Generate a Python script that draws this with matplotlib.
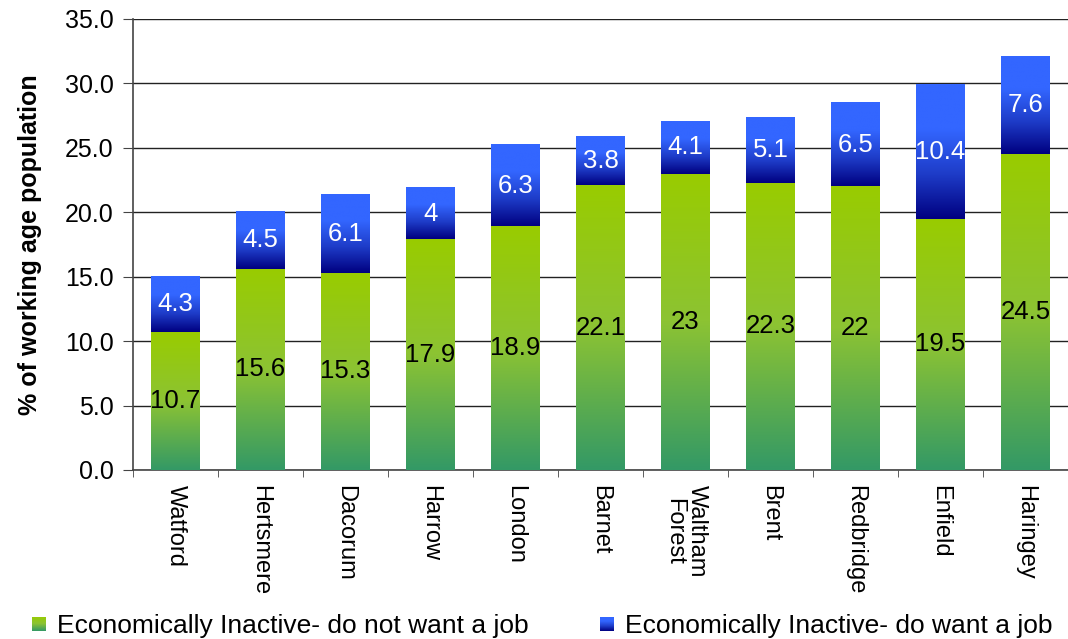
import matplotlib.pyplot as plt
import numpy as np
from matplotlib.colors import LinearSegmentedColormap

plt.rcParams['font.family'] = ['Liberation Sans', 'DejaVu Sans']

areas = ['Watford', 'Hertsmere', 'Dacorum', 'Harrow', 'London', 'Barnet',
         'Waltham\nForest', 'Brent', 'Redbridge', 'Enfield', 'Haringey']
not_want = [10.7, 15.6, 15.3, 17.9, 18.9, 22.1, 23, 22.3, 22, 19.5, 24.5]
do_want = [4.3, 4.5, 6.1, 4, 6.3, 3.8, 4.1, 5.1, 6.5, 10.4, 7.6]

legend_labels = ['Economically Inactive- do not want a job',
                 'Economically Inactive- do want a job']

# vertical gradients, bottom colour first
green_cm = LinearSegmentedColormap.from_list('grn', ['#339966', '#8CC333', '#99CC00'])
blue_cm = LinearSegmentedColormap.from_list('blu', ['#000080', '#1E3CC8', '#3366FF', '#3366FF'])
grad = np.linspace(0, 1, 256).reshape(-1, 1)

fig = plt.figure(figsize=(10.68, 6.39), dpi=100)
ax = fig.add_axes([0.1245, 0.2645, 0.8755, 0.7058])

w = 0.57
x = np.arange(len(areas))
for i in x:
    lo, hi = 0, not_want[i]
    ax.imshow(grad, extent=(i - w / 2, i + w / 2, lo, hi), cmap=green_cm,
              origin='lower', aspect='auto', zorder=3)
    ax.text(i, (lo + hi) / 2, f'{not_want[i]:g}', ha='center', va='center',
            fontsize=18.5, color='black', zorder=4)
    lo, hi = not_want[i], not_want[i] + do_want[i]
    ax.imshow(grad, extent=(i - w / 2, i + w / 2, lo, hi), cmap=blue_cm,
              origin='lower', aspect='auto', zorder=3)
    ax.text(i, (lo + hi) / 2, f'{do_want[i]:g}', ha='center', va='center',
            fontsize=18.5, color='white', zorder=4)

ax.set_xlim(-0.5, 10.39)
ax.set_ylim(0, 35)
ax.set_yticks(np.arange(0, 35.1, 5))
ax.set_yticklabels([f'{v:.1f}' for v in np.arange(0, 35.1, 5)], fontsize=18)
ax.yaxis.grid(True, color='#222222', lw=1)
ax.set_axisbelow(True)

ax.set_xticks(x)
ax.set_xticklabels(areas, rotation=270, fontsize=17, va='top', ha='center',
                   linespacing=1.0)
ax.set_xticks(np.arange(-0.5, 10.6, 1), minor=True)
ax.tick_params(axis='x', which='major', length=0, pad=11)
ax.tick_params(axis='x', which='minor', length=5, direction='out', color='#444444')
ax.tick_params(axis='y', length=7, direction='out', color='#444444', pad=7)

for s in ['top', 'right']:
    ax.spines[s].set_visible(False)
for s in ['left', 'bottom']:
    ax.spines[s].set_color('#444444')
    ax.spines[s].set_linewidth(1.2)

ax.set_ylabel('% of working age population', fontsize=18, fontweight='bold',
              labelpad=16)

# legend drawn with small gradient swatches
for cm, lab, x0 in [(green_cm, legend_labels[0], 0.030), (blue_cm, legend_labels[1], 0.562)]:
    sw = fig.add_axes([x0, 0.012, 0.013, 0.022])
    sw.imshow(grad, cmap=cm, origin='lower', aspect='auto')
    sw.axis('off')
    fig.text(x0 + 0.023, 0.021, lab, fontsize=19, va='center', ha='left')

fig.savefig('out.png', dpi=100)
